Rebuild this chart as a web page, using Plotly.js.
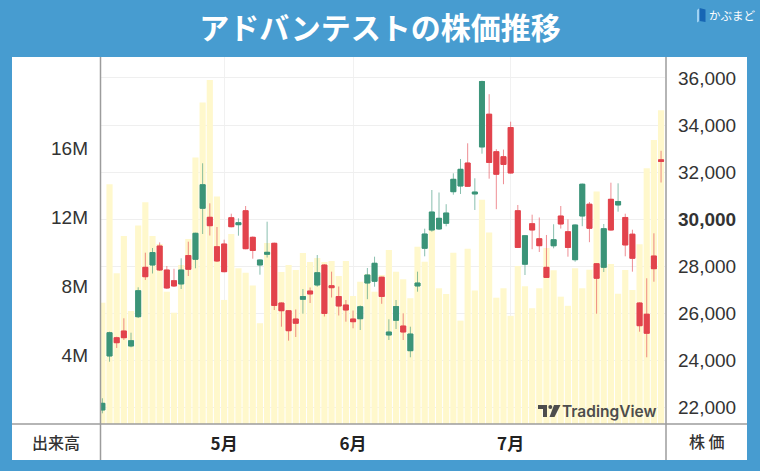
<!DOCTYPE html>
<html><head><meta charset="utf-8">
<script src="https://cdn.plot.ly/plotly-3.0.1.min.js"></script>
<style>html,body{margin:0;padding:0;background:#479cd0;}#chart{width:760px;height:471px;}</style>
</head><body><div id="chart"></div>
<script>
// ---- data ----
const openP  = [21885,24181,24959,25244,24606,25851,27951,28049,28857,27837,27382,27242,28453,28291,30460,30077,28827,28942,30060,29762,30357,29227,28049,28504,28972,26434,26106,25754,26591,26944,27199,28049,27169,26710,26349,25754,25766,27284,27356,27530,25073,25698,25456,24406,27157,28759,29537,29580,29822,31165,31407,32385,31068,33066,34460,32866,32653,33894,30357,28083,29805,29167,27951,28866,30132,29465,28274,30132,30634,28105,27951,30842,30600,30069,29359,26434,25958,28432,32521];
const highP  = [22383,25214,25000,25783,25171,27101,28572,28772,29010,28007,27888,28334,29040,29420,32373,30672,29665,29125,30230,30034,30557,29260,28290,29890,29000,26460,26130,26158,27029,27093,28474,28080,27765,27135,26561,26115,26328,27922,28402,27550,25741,26561,25996,25426,27765,29593,31237,31131,30634,31947,32556,33223,31735,35884,35310,32972,32955,34141,30600,29320,30188,30069,29325,29780,30557,29992,29775,31510,30727,28130,29792,31548,31522,30230,29550,26460,27484,29397,32904];
const lowP   = [21745,23938,24521,24861,24551,25796,27412,27688,27800,27029,27114,27029,27582,27909,29367,29303,28177,27740,29650,29295,28720,28317,27637,28368,26136,25426,24831,24989,25979,26434,27127,25860,26668,25903,25639,25358,25286,26595,27127,26400,24861,25329,24861,24126,26914,28419,29465,29537,29694,31038,31068,31365,30388,32781,31718,30421,31484,31940,28770,27624,28721,28602,27500,28759,29597,28402,28189,29699,29019,25979,27752,29510,30315,28419,27765,25214,24126,27339,31556];
const closeP = [22170,25171,24746,24959,24831,26957,27552,28580,27837,27071,27157,27837,27866,29397,31462,29720,28219,27765,29677,29847,28742,28666,28262,28589,26328,26106,25256,25571,26710,26817,27722,25988,27084,26306,26136,25639,26277,27624,28122,26710,25201,26285,25201,25116,27284,29367,30302,30034,30260,31692,32117,31394,31152,35850,32407,31905,32322,31960,28793,29295,29537,28870,27518,29125,29792,28793,29750,31484,29609,27484,29593,29537,30749,28900,28334,25469,25146,27892,32449];
const volumeM = [7.03,13.90,8.74,10.90,6.55,11.50,12.85,10.90,10.43,7.67,6.45,9.22,10.72,15.44,18.63,19.94,13.18,7.19,11.01,9.03,8.77,8.02,5.84,10.49,10.09,8.81,9.22,8.93,9.91,9.39,9.62,9.39,9.45,8.58,9.45,7.42,8.25,8.70,7.67,8.64,10.09,8.83,8.39,7.29,10.28,9.41,11.30,7.87,7.54,9.93,5.99,10.16,7.74,12.99,11.10,7.32,7.87,6.27,9.16,7.98,6.71,7.87,10.20,8.91,7.38,6.85,9.03,7.87,8.94,13.47,9.22,9.28,7.55,8.93,7.77,10.42,14.82,16.46,18.19];
const monthTickIdx = [17, 35, 57];
const monthLabels = ['5月', '6月', '7月'];
const volTicks = [4, 8, 12, 16];
const volTickLabels = ['4M', '8M', '12M', '16M'];
const priceTicks = [22000, 24000, 26000, 28000, 30000, 32000, 34000, 36000];
const priceTickLabels = ['22,000', '24,000', '26,000', '28,000', '<b>30,000</b>', '32,000', '34,000', '36,000'];

const dayIdx = openP.map((_, i) => i);
const bodyHigh = openP.map((o, i) => Math.max(o, closeP[i]));
const bodyLow = openP.map((o, i) => Math.min(o, closeP[i]));

// ---- layout geometry (pixels) ----
const L = 101, R = 665, T = 57, B = 424;
const px = x => (x - L) / (R - L);
const py = y => (B - y) / (B - T);
const pathOf = pts => 'M ' + pts.map(p => px(p[0]) + ' ' + py(p[1])).join(' L ') + ' Z';

const UP = '#3b9478', DOWN = '#e2434c';
const JP = 'Noto Sans CJK JP';
const SANS = 'Liberation Sans, Arial, sans-serif';

const traces = [
  { type: 'bar', x: dayIdx, y: volumeM, xaxis: 'x', yaxis: 'y',
    marker: { color: '#fff8cc', line: { width: 0 } }, hoverinfo: 'skip' },
  { type: 'candlestick', x: dayIdx, open: openP, high: highP, low: lowP, close: closeP,
    xaxis: 'x', yaxis: 'y2', whiskerwidth: 0, hoverinfo: 'skip',
    increasing: { line: { color: 'rgba(59,148,120,0.6)', width: 1 }, fillcolor: UP },
    decreasing: { line: { color: 'rgba(226,67,76,0.6)', width: 1 }, fillcolor: DOWN } },
  { type: 'candlestick', x: dayIdx, open: openP, high: bodyHigh, low: bodyLow, close: closeP,
    xaxis: 'x', yaxis: 'y2', whiskerwidth: 0, hoverinfo: 'skip',
    increasing: { line: { color: UP, width: 0.8 }, fillcolor: UP },
    decreasing: { line: { color: DOWN, width: 0.8 }, fillcolor: DOWN } }
];

const gray = '#9c9c9c';
const layout = {
  width: 760, height: 471,
  margin: { l: L, r: 760 - R, t: T, b: 471 - B, pad: 0 },
  paper_bgcolor: '#479cd0', plot_bgcolor: '#ffffff',
  showlegend: false, bargap: 0.14, boxgap: 0.3, boxgroupgap: 0,
  title: { text: 'アドバンテストの株価推移', x: 0.5, xanchor: 'center', xref: 'container',
           y: 1 - 28 / 471, yanchor: 'middle', yref: 'container',
           font: { family: JP, size: 30, color: '#ffffff', weight: 'bold' } },
  xaxis: { range: [-0.19, 78.55], tickvals: monthTickIdx, ticktext: monthLabels,
           showgrid: true, gridcolor: '#f1f1f1', zeroline: false, showline: false, ticks: '',
           ticklabelstandoff: 8, rangeslider: { visible: false }, fixedrange: true,
           tickfont: { family: JP, size: 17, color: '#222', weight: 'bold' } },
  yaxis: { range: [0, 21.27], side: 'left', tickvals: volTicks, ticktext: volTickLabels,
           showgrid: false, zeroline: false, showline: false, ticks: '', ticklabelstandoff: 12,
           tickfont: { family: SANS, size: 19, color: '#333' }, fixedrange: true },
  yaxis2: { range: [21290, 36891], overlaying: 'y', side: 'right', tickvals: priceTicks,
            ticktext: priceTickLabels, showgrid: true, gridcolor: '#efefef', zeroline: false,
            showline: false, ticks: '', ticklabelstandoff: 12,
            tickfont: { family: SANS, size: 19, color: '#333' }, fixedrange: true },
  shapes: [
    { type: 'rect', xref: 'paper', yref: 'paper', x0: px(12), x1: px(747), y0: py(460), y1: py(57),
      fillcolor: '#ffffff', line: { width: 0 }, layer: 'below' },
    { type: 'line', xref: 'paper', yref: 'paper', x0: px(100.5), x1: px(100.5), y0: py(57), y1: py(460),
      line: { color: gray, width: 1.5 } },
    { type: 'line', xref: 'paper', yref: 'paper', x0: px(666), x1: px(666), y0: py(57), y1: py(460),
      line: { color: gray, width: 1.5 } },
    { type: 'line', xref: 'paper', yref: 'paper', x0: px(12), x1: px(747), y0: py(424), y1: py(424),
      line: { color: gray, width: 1.5 } },
    // TradingView watermark logo
    { type: 'path', xref: 'paper', yref: 'paper', path: pathOf([[538,405],[547,405],[547,417],[543,417],[543,409],[538,409]]),
      fillcolor: '#4d4d4d', line: { width: 0 } },
    { type: 'circle', xref: 'paper', yref: 'paper', x0: px(548.3), x1: px(552.3), y0: py(409), y1: py(405),
      fillcolor: '#4d4d4d', line: { width: 0 } },
    { type: 'path', xref: 'paper', yref: 'paper', path: pathOf([[554,405],[560.5,405],[554.5,417],[549.5,417]]),
      fillcolor: '#4d4d4d', line: { width: 0 } },
    // kabumado logo icon
    { type: 'path', xref: 'paper', yref: 'paper', path: pathOf([[697,10],[699.5,8],[699.5,21],[697,22.5]]),
      fillcolor: '#9fd2f3', line: { width: 0 } },
    { type: 'path', xref: 'paper', yref: 'paper', path: pathOf([[699.5,8],[705.5,9.5],[705.5,22],[699.5,21]]),
      fillcolor: '#1766b4', line: { width: 0 } }
  ],
  annotations: [
    { xref: 'paper', yref: 'paper', x: px(56), y: py(441.5), text: '出来高', showarrow: false,
      xanchor: 'center', yanchor: 'middle', font: { family: JP, size: 16, color: '#333', weight: 500 } },
    { xref: 'paper', yref: 'paper', x: px(706.5), y: py(440.7), text: '株 価', showarrow: false,
      xanchor: 'center', yanchor: 'middle', font: { family: JP, size: 16, color: '#333', weight: 500 } },
    { xref: 'paper', yref: 'paper', x: px(706.5), y: py(15), text: 'かぶまど', showarrow: false,
      xanchor: 'left', yanchor: 'middle', font: { family: JP, size: 11.5, color: '#ffffff' } },
    { xref: 'paper', yref: 'paper', x: px(657.5), y: py(411.5), text: 'TradingView', showarrow: false,
      xanchor: 'right', yanchor: 'middle', font: { family: 'Inter, sans-serif', size: 15.5, color: '#4d4d4d', weight: 600 } }
  ]
};

Plotly.newPlot('chart', traces, layout, { staticPlot: true, displayModeBar: false });
</script>
</body></html>
